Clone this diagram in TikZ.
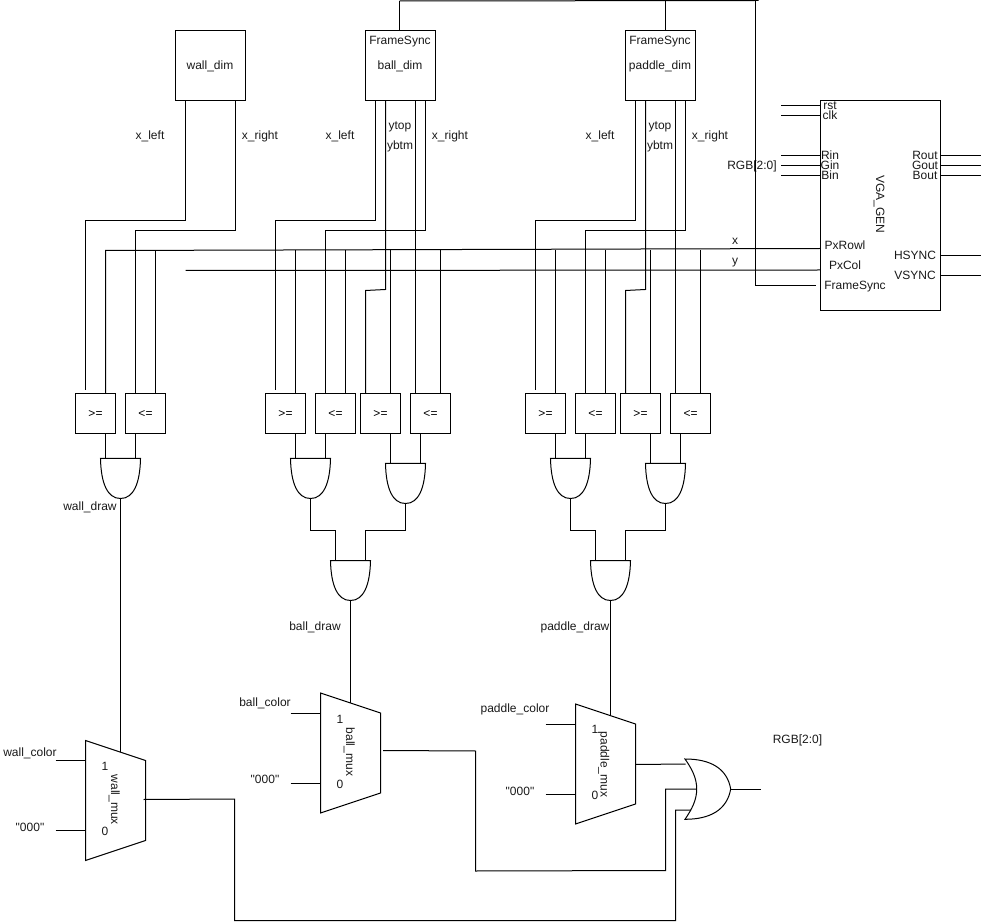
\documentclass[tikz,border=0pt]{standalone}
\usepackage{fontspec}
\setmainfont{Liberation Sans}[Ligatures=TeXOff]
\usetikzlibrary{calc}
\tikzset{
  wire/.style={draw=black,line width=0.75pt,line join=miter},
  blockbox/.style={draw=black,line width=0.75pt,fill=none,inner sep=0pt,outer sep=0pt},
  dimbox/.style={blockbox,minimum width=52.5pt,minimum height=52.5pt},
  cmpbox/.style={blockbox,minimum width=30pt,minimum height=30pt,text height=8.5pt,text depth=2pt},
  txt/.style={inner sep=0pt,outer sep=0pt,font=\fontsize{9pt}{10pt}\selectfont,text=black!90,text height=9.5pt,text depth=2pt},
  vtxt/.style={txt,rotate=-90},
}
% AND gate: #1 name, #2 left x, #3 top y
\newcommand{\gateAnd}[3]{%
  \coordinate (#1-a) at (#2+5,#3);
  \coordinate (#1-b) at (#2+35,#3);
  \coordinate (#1-o) at (#2+20,#3+40);
  \draw[wire] (#2,#3) -- (#2+40,#3)
    .. controls (#2+39.5,#3+25) and (#2+33,#3+40) .. (#2+20,#3+40)
    .. controls (#2+7,#3+40) and (#2+0.5,#3+25) .. (#2,#3) -- cycle;
}
% comparator helper: wire up from a comparator's top edge, offset #2, length #3
\newcommand{\upw}[3]{\draw[wire] ($(#1.north west)+(#2,0)$) -- +(0,-#3);}
\begin{document}
\begin{tikzpicture}[x=0.75pt,y=-0.75pt]
\useasboundingbox (0,0) rectangle (982,923);

% dimension blocks
\node[dimbox] (wall) at (210.5,65.5) {};
\node[dimbox] (ball) at (400.5,65.5) {};
\node[dimbox] (pad)  at (660.5,65.5) {};
\node[txt] (twall) at (210,65) {wall\_dim};
\node[txt] (fsb) at (400,40) {FrameSync};
\node[txt] (tball) at (400,65) {ball\_dim};
\node[txt] (fsp) at (660,40) {FrameSync};
\node[txt] (tpad) at (660,65) {paddle\_dim};

% VGA block
\node[blockbox,minimum width=90pt,minimum height=157.5pt] (vga) at (880.5,205.5) {};
\node[vtxt] (tvga) at (881,204.5) {VGA\_GEN};
\foreach \n/\t/\y in {trst/rst/105,tclk/clk/115,trin/Rin/155,tgin/Gin/165,tbin/Bin/175}
  \node[txt] (\n) at (830,\y) {\t};
\foreach \n/\t/\y in {trout/Rout/155,tgout/Gout/165,tbout/Bout/175}
  \node[txt] (\n) at (925,\y) {\t};
\node[txt] (tprow) at (845,245) {PxRowl};
\node[txt] (tpcol) at (845,265) {PxCol};
\node[txt] (tfs) at (855,285) {FrameSync};
\node[txt] (ths) at (915,255) {HSYNC};
\node[txt] (tvs) at (915,275) {VSYNC};
\node[txt] (trgb) at (752,165) {RGB[2:0]};
\node[txt] (tx) at (735,240) {x};
\node[txt] (ty) at (735,260) {y};
\foreach \y in {105.5,115.5,155.5,165.5,175.5}
  \draw[wire] (vga.west |- 0,\y) -- +(-40,0);
\foreach \y in {155.5,165.5,175.5,255.5,275.5}
  \draw[wire] (vga.east |- 0,\y) -- +(40,0);

% comparators
\foreach \n/\t/\x in {c1/{>=}/95.5,c2/{<=}/145.5,c3/{>=}/285.5,c4/{<=}/335.5,c5/{>=}/380.5,c6/{<=}/430.5,c7/{>=}/545.5,c8/{<=}/595.5,c9/{>=}/640.5,c10/{<=}/690.5}
  \node[cmpbox,font=\fontsize{9pt}{10pt}\selectfont] (\n) at (\x,413.5) {\t};

% wall wires
\draw[wire] ($(wall.south west)+(10,0)$) |- (85.5,220.5) -- ($(c1.north west)+(10,-3)$);
\draw[wire] ($(wall.south west)+(60,0)$) |- (135.5,230.5) -- ($(c2.north west)+(10,0)$);
% ball wires
\draw[wire] ($(ball.south west)+(10,0)$) |- (275.5,220.5) -- ($(c3.north west)+(10,-3)$);
\draw[wire] ($(ball.south west)+(60,0)$) |- (325.5,230.5) -- ($(c4.north west)+(10,0)$);
\draw[wire] ($(ball.south west)+(20,0)$) -- (385.5,289.5) -- (365.5,290.5) -- ($(c5.north west)+(5,0)$);
\draw[wire] ($(ball.south west)+(50,0)$) -- ($(c6.north west)+(5,0)$);
% paddle wires
\draw[wire] ($(pad.south west)+(10,0)$) |- (535.5,220.5) -- ($(c7.north west)+(10,-3)$);
\draw[wire] ($(pad.south west)+(60,0)$) |- (585.5,230.5) -- ($(c8.north west)+(10,0)$);
\draw[wire] ($(pad.south west)+(20,0)$) -- (645.5,289.5) -- (625.5,290.5) -- ($(c9.north west)+(5,0)$);
\draw[wire] ($(pad.south west)+(50,0)$) -- ($(c10.north west)+(5,0)$);

% x and y rails
\coordinate (railx) at (105.5,250.5);
\coordinate (raily) at (185.5,270.5);
\draw[wire] ($(c1.north west)+(30,0)$) -- (railx) -- ($(vga.west |- 0,248.5)$);
\draw[wire] (raily) -- ($(vga.west |- 0,270)$);
\upw{c2}{30}{143}
\upw{c3}{30}{143}
\upw{c4}{30}{143}
\upw{c5}{30}{143}
\upw{c6}{30}{143}
\upw{c7}{30}{143}
\upw{c8}{30}{143}
\upw{c9}{30}{143}
\upw{c10}{30}{143}

% frame sync bus
\coordinate (busL) at (399.5,1);
\coordinate (busR) at (758.5,0.5);
\coordinate (busT) at (755.5,0.5);
\coordinate (busB) at (755.5,286);
\coordinate (busE) at (815.5,286);
\draw[wire] (busL) -- (busR);
\draw[wire] ($(ball.north west)+(34,0)$) -- (busL);
\draw[wire] ($(pad.north west)+(40,0)$) -- (665.5,0.7);
\draw[wire] (busT) -- (busB) -- (busE);

% labels on dimension wires
\foreach \n/\t/\x/\y in {l1/x\_left/150/135,l2/x\_right/260/135,l3/x\_left/340/135,l4/x\_right/450/135,l5/ytop/400/125,l6/ybtm/400/145,l7/x\_left/600/135,l8/x\_right/710/135,l9/ytop/660/125,l10/ybtm/660/145}
  \node[txt] (\n) at (\x,\y) {\t};

% AND gates
\gateAnd{g1}{100.5}{458.5}
\gateAnd{g2}{290.5}{458.5}
\gateAnd{g3}{385.5}{463.5}
\gateAnd{g4}{330.5}{560.5}
\gateAnd{g5}{550.5}{458.5}
\gateAnd{g6}{645.5}{463.5}
\gateAnd{g7}{590.5}{560.5}
\draw[wire] (g1-a) -- (g1-a |- c1.south);
\draw[wire] (g1-b) -- (g1-b |- c2.south);
\draw[wire] (g2-a) -- (g2-a |- c3.south);
\draw[wire] (g2-b) -- (g2-b |- c4.south);
\draw[wire] (g3-a) -- (g3-a |- c5.south);
\draw[wire] (g3-b) -- (g3-b |- c6.south);
\draw[wire] (g5-a) -- (g5-a |- c7.south);
\draw[wire] (g5-b) -- (g5-b |- c8.south);
\draw[wire] (g6-a) -- (g6-a |- c9.south);
\draw[wire] (g6-b) -- (g6-b |- c10.south);
\draw[wire] (g2-o) |- ($(g4-a)+(0,-30)$) -- (g4-a);
\draw[wire] (g3-o) |- ($(g4-b)+(0,-30)$) -- (g4-b);
\draw[wire] (g5-o) |- ($(g7-a)+(0,-30)$) -- (g7-a);
\draw[wire] (g6-o) |- ($(g7-b)+(0,-30)$) -- (g7-b);

% muxes
\draw[wire] (85.5,740.5) -- (145.5,760.5) -- (145.5,840.5) -- (85.5,860.5) -- cycle;
\draw[wire] (320.5,693) -- (380.5,713) -- (380.5,793) -- (320.5,813) -- cycle;
\draw[wire] (575.5,704) -- (635.5,724) -- (635.5,804) -- (575.5,824) -- cycle;
\coordinate (m1t) at (120.5,752);
\coordinate (m2t) at (350.5,703);
\coordinate (m3t) at (610.5,715.5);
\draw[wire] (g1-o) -- (m1t);
\draw[wire] (g4-o) -- (m2t);
\draw[wire] (g7-o) -- (m3t);
\foreach \a/\b/\c in {55.5/760.5/85.5,55.5/830.5/85.5,290.5/713/320.5,290.5/783.5/320.5,545.5/724/575.5,545.5/794.5/575.5}
  \draw[wire] (\a,\b) -- (\c,\b);

\node[txt] (n1) at (105,765) {1};
\node[txt] (n2) at (105,830) {0};
\node[vtxt] (n3) at (116,800) {wall\_mux};
\node[txt] (n4) at (340,718) {1};
\node[txt] (n5) at (340,783) {0};
\node[vtxt] (n6) at (351,752) {ball\_mux};
\node[txt] (n7) at (595,728) {1};
\node[txt] (n8) at (595,794) {0};
\node[vtxt] (n9) at (605.5,764.5) {paddle\_mux};

\node[txt] (t1) at (90,505) {wall\_draw};
\node[txt] (t2) at (315,625) {ball\_draw};
\node[txt] (t3) at (575,625) {paddle\_draw};
\node[txt] (t4) at (30,751) {wall\_color};
\node[txt] (t5) at (30,826) {"000"};
\node[txt] (t6) at (265,701) {ball\_color};
\node[txt] (t7) at (265,778) {"000"};
\node[txt] (t8) at (515,707) {paddle\_color};
\node[txt] (t9) at (520,790) {"000"};
\node[txt] (t10) at (797.5,738) {RGB[2:0]};

% OR gate
\draw[wire] (685,759)
  .. controls (710,759) and (727,768) .. (730.7,789)
  .. controls (727,810) and (710,819.3) .. (685,819.3)
  .. controls (692,809) and (696.7,800) .. (696.7,789)
  .. controls (696.7,778) and (692,769) .. (685,759) -- cycle;
\coordinate (ori1) at (685.5,764);
\coordinate (ori2) at (696.7,789);
\coordinate (ori3) at (691,810);
\coordinate (oro) at (730.7,789);
\coordinate (oroe) at (760.5,789);
\draw[wire] (oro) -- (oroe);
\draw[wire] (635.5,764.5) -- (ori1);
\coordinate (m2o) at (383,750.5);
\coordinate (m1o) at (143.5,799.5);
\draw[wire] (m2o) -- (475.5,751) -- (475.5,871) -- (665.5,870.5) -- (665.5,789) -- (ori2);
\draw[wire] (m1o) -- (234.5,799) -- (234.5,920.5) -- (675.5,920.5) -- (675.5,810) -- (ori3);
\end{tikzpicture}
\end{document}
